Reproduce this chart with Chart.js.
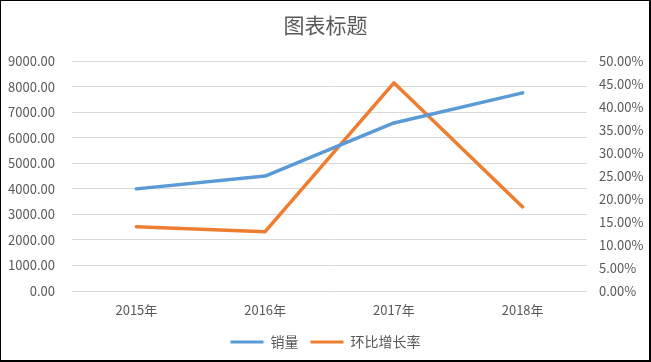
<!DOCTYPE html>
<html>
<head>
<meta charset="utf-8">
<script src="https://cdn.jsdelivr.net/npm/chart.js@4/dist/chart.umd.min.js"></script>
<style>
  html, body { margin: 0; padding: 0; background: #fff; }
  #wrap { position: relative; width: 651px; height: 362px; }
  #frame {
    position: absolute; left: 0; top: 0; width: 651px; height: 362px;
    box-sizing: border-box; pointer-events: none;
    border-left: 1px solid #000; border-top: 1px solid #000;
    border-right: 2px solid #000; border-bottom: 2px solid #000;
  }
</style>
</head>
<body>
<div id="wrap">
  <canvas id="chart" width="651" height="362"></canvas>
  <div id="frame"></div>
</div>
<script>
// 数据
const years = ["2015年", "2016年", "2017年", "2018年"];
const sales = [4000, 4500, 6580, 7760];          // 销量
const growthRate = [14.0, 12.9, 45.3, 18.3];     // 环比增长率 (%)

const FONT = "'Noto Sans CJK SC', 'Noto Sans', sans-serif";
const GREY = "#595959";

Chart.defaults.font.family = FONT;
Chart.defaults.color = GREY;

const ctx = document.getElementById("chart").getContext("2d");
new Chart(ctx, {
  type: "line",
  data: {
    labels: years,
    datasets: [
      {
        label: "销量",
        data: sales,
        yAxisID: "y",
        borderColor: "#5B9BD5",
        backgroundColor: "#5B9BD5",
        borderWidth: 3.5,
        pointRadius: 0,
        tension: 0,
        borderCapStyle: "round",
        borderJoinStyle: "round"
      },
      {
        label: "环比增长率",
        data: growthRate,
        yAxisID: "y1",
        borderColor: "#ED7D31",
        backgroundColor: "#ED7D31",
        borderWidth: 3.5,
        pointRadius: 0,
        tension: 0,
        borderCapStyle: "round",
        borderJoinStyle: "round"
      }
    ]
  },
  options: {
    responsive: false,
    animation: false,
    layout: { padding: { left: 0, right: 0, top: 0, bottom: 3 } },
    plugins: {
      title: {
        display: true,
        text: "图表标题",
        color: GREY,
        font: { size: 21, weight: "normal", family: FONT },
        padding: { top: 12, bottom: 24 }
      },
      legend: {
        position: "bottom",
        labels: {
          color: GREY,
          font: { size: 14, family: FONT },
          boxWidth: 33,
          boxHeight: 3,
          padding: 12,
          generateLabels: chart => {
            const items = Chart.defaults.plugins.legend.labels.generateLabels(chart);
            items.forEach(it => { it.lineWidth = 0; it.strokeStyle = it.fillStyle; });
            return items;
          }
        }
      },
      tooltip: { enabled: false }
    },
    scales: {
      x: {
        offset: true,
        grid: { display: false, drawTicks: false },
        border: { display: false },
        ticks: { color: GREY, font: { size: 13 }, padding: 11 },
        afterFit: s => { s.height = 32; }
      },
      y: {
        position: "left",
        min: 0,
        max: 9000,
        grid: { color: "#d9d9d9", drawTicks: false, lineWidth: 1 },
        border: { display: false },
        ticks: {
          stepSize: 1000,
          color: GREY,
          font: { size: 13 },
          padding: 17,
          callback: v => v.toFixed(2)
        },
        afterFit: s => { s.width = 72; }
      },
      y1: {
        position: "right",
        min: 0,
        max: 50,
        grid: { display: false, drawTicks: false },
        border: { display: false },
        ticks: {
          stepSize: 5,
          color: GREY,
          font: { size: 13 },
          padding: 12,
          callback: v => v.toFixed(2) + "%"
        },
        afterFit: s => { s.width = 64; }
      }
    }
  }
});
</script>
</body>
</html>
